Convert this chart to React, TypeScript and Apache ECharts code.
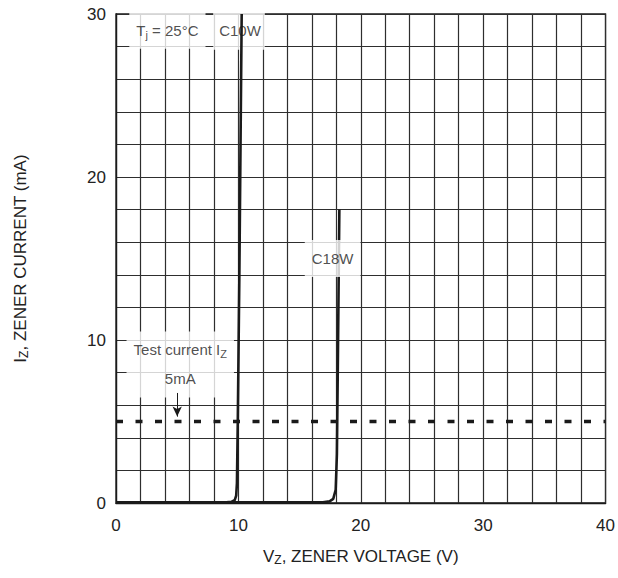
import React, { useEffect, useRef } from "react";
import * as echarts from "echarts";

// Zener curves: [V_Z (V), I_Z (mA)]
const c10wCurve: number[][] = [
  [0, 0.05], [9.0, 0.05], [9.45, 0.08], [9.7, 0.18], [9.82, 0.45], [9.88, 1.2],
  [9.95, 5], [10.08, 14], [10.27, 30],
];
const c18wCurve: number[][] = [
  [0, 0.05], [16.9, 0.05], [17.45, 0.1], [17.75, 0.25], [17.95, 0.8],
  [18.05, 3], [18.12, 8], [18.25, 18],
];
const testCurrentLine: number[][] = [[0, 5], [40, 5]];
const testArrow: number[][] = [[5, 6.75], [5, 5.3]];

// Annotations (data coordinates)
const labelsBelowCurves = [
  { value: [10.05, 29.0], text: "C10W" },
];
const labelsAboveCurves = [
  { value: [4.2, 29.0], text: "T{s|j} = 25°C" },
  { value: [17.7, 15.0], text: "C18W" },
  { value: [5.25, 8.5], text: "Test current I{s|Z}\n5mA" },
];

const X_NAME = "V{s|Z}, ZENER VOLTAGE (V)";
const Y_NAME = "I{s|Z}, ZENER CURRENT (mA)";

const FONT = "'Liberation Sans', Arial, Helvetica, sans-serif";
const INK = "#1a1a1a";
const GRID = "#2e2e2e";

export default function App() {
  const ref = useRef<HTMLDivElement>(null);

  useEffect(() => {
    if (!ref.current) return;
    const chart = echarts.init(ref.current, undefined, { renderer: "svg" });

    const subRich = (size: number) => ({
      s: { fontSize: size, fontFamily: FONT, color: "#222", padding: [Math.round(size * 0.6), 0, 0, 0] },
    });

    const axisCommon = {
      type: "value" as const,
      axisTick: { show: false },
      minorTick: { show: true, splitNumber: 5, length: 0 },
      axisLine: { show: true, lineStyle: { color: INK, width: 1.3 } },
      splitLine: { show: true, lineStyle: { color: GRID, width: 1.2 } },
      minorSplitLine: { show: true, lineStyle: { color: GRID, width: 1.2 } },
      axisLabel: { color: "#222", fontSize: 17, fontFamily: FONT },
      nameLocation: "middle" as const,
    };

    const labelStyle = {
      show: true,
      position: "inside",
      formatter: (p: any) => p.data.text,
      backgroundColor: "#fff",
      color: "#222",
      fontSize: 15,
      fontFamily: FONT,
      padding: [4, 7, 4, 7],
      lineHeight: 29,
      rich: { s: { fontSize: 11, fontFamily: FONT, color: "#222", padding: [9, 0, 0, 0], lineHeight: 29 } },
    };

    chart.setOption({
      animation: false,
      grid: { left: 116, right: 12, top: 14, bottom: 75, show: true, borderColor: INK, borderWidth: 1.3 },
      xAxis: {
        ...axisCommon,
        min: 0, max: 40, interval: 10,
        axisLabel: { ...axisCommon.axisLabel, margin: 14 },
        name: X_NAME,
        nameGap: 44,
        nameTextStyle: { color: "#222", fontSize: 17, fontFamily: FONT, rich: subRich(12) },
      },
      yAxis: {
        ...axisCommon,
        min: 0, max: 30, interval: 10,
        axisLabel: { ...axisCommon.axisLabel, margin: 10 },
        name: Y_NAME,
        nameGap: 86,
        nameTextStyle: { color: "#222", fontSize: 17, fontFamily: FONT, rich: subRich(12) },
      },
      series: [
        {
          type: "scatter",
          z: 1,
          symbolSize: 0,
          silent: true,
          data: labelsBelowCurves.map((d) => ({ value: d.value, text: d.text })),
          label: { ...labelStyle, padding: [5, 4, 5, 6] },
        },
        {
          type: "line",
          z: 2,
          data: c10wCurve,
          showSymbol: false,
          symbol: "none",
          lineStyle: { color: INK, width: 2.6 },
          silent: true,
        },
        {
          type: "line",
          z: 2,
          data: c18wCurve,
          showSymbol: false,
          symbol: "none",
          lineStyle: { color: INK, width: 2.6 },
          silent: true,
        },
        {
          type: "scatter",
          z: 3,
          symbolSize: 0,
          silent: true,
          data: labelsAboveCurves.map((d) => ({ value: d.value, text: d.text })),
          label: labelStyle,
        },
        {
          type: "line",
          z: 4,
          data: testCurrentLine,
          showSymbol: false,
          symbol: "none",
          lineStyle: { color: INK, width: 3.6, type: [7, 12.5] },
          silent: true,
          markLine: {
            silent: true,
            symbol: ["none", "arrow"],
            symbolSize: [7, 10],
            label: { show: false },
            lineStyle: { color: INK, width: 1, type: "solid" },
            data: [[{ coord: testArrow[0] }, { coord: testArrow[1] }]],
          },
        },
      ],
    });

    return () => chart.dispose();
  }, []);

  return (
    <div
      ref={ref}
      style={{ position: "fixed", left: 0, top: 0, width: 618, height: 578, background: "#fff" }}
    />
  );
}
